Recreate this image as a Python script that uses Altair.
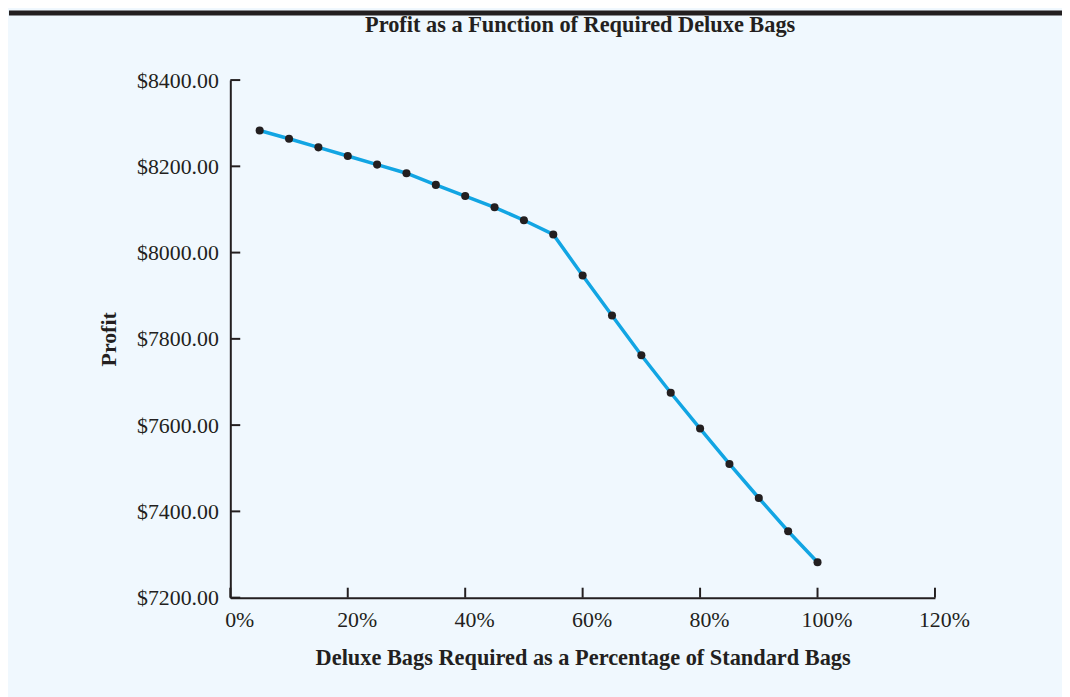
import altair as alt
import pandas as pd

# ---- data ----
pct = [5, 10, 15, 20, 25, 30, 35, 40, 45, 50,
       55, 60, 65, 70, 75, 80, 85, 90, 95, 100]
profit = [8283, 8264, 8244, 8224, 8204, 8184, 8157, 8131, 8105, 8075,
          8042, 7947, 7854, 7762, 7675, 7592, 7510, 7431, 7354, 7282]
x_ticks = [0, 20, 40, 60, 80, 100, 120]
y_ticks = [7200, 7400, 7600, 7800, 8000, 8200, 8400]

title_text = "Profit as a Function of Required Deluxe Bags"
x_title = "Deluxe Bags Required as a Percentage of Standard Bags"
y_title = "Profit"

df = pd.DataFrame({"pct": pct, "profit": profit})
xt = pd.DataFrame({"pct": x_ticks})
yt = pd.DataFrame({"profit": y_ticks})

# ---- style ----
INK = "#231f20"
LINE = "#12a5e3"
BG = "#f0f8fe"
FONT = "Liberation Serif"
W, H = 710, 521.5

xscale = alt.Scale(domain=[0, 120], nice=False, zero=False)
yscale = alt.Scale(domain=[7200, 8400], nice=False, zero=False)

xaxis = alt.Axis(
    values=x_ticks, labelExpr="datum.value + '%'", title=x_title,
    grid=False, ticks=False, tickSize=0,
    domainColor=INK, domainWidth=2,
    labelFont=FONT, labelFontSize=22, labelColor=INK,
    labelBaseline="alphabetic", labelPadding=29.5, labelOffset=9,
    labelFlush=False, labelOverlap=False,
    titleFont=FONT, titleFontSize=22.5, titleFontWeight="bold", titleColor=INK,
    titleBaseline="alphabetic", titleY=67,
)
yaxis = alt.Axis(
    values=y_ticks, format="$.2f", title=y_title,
    grid=False, ticks=False, tickSize=0,
    domainColor=INK, domainWidth=2,
    labelFont=FONT, labelFontSize=22, labelColor=INK,
    labelPadding=12, labelFlush=False, labelOverlap=False,
    titleFont=FONT, titleFontSize=22, titleFontWeight="bold", titleColor=INK,
    titleBaseline="alphabetic", titleX=-115.6,
)

bar = alt.Chart(pd.DataFrame({"k": [0]})).mark_rect(color=INK).encode(
    x=alt.value(-223), x2=alt.value(838), y=alt.value(-70), y2=alt.value(-65)
)

xtick_rules = alt.Chart(xt).mark_rule(color=INK, strokeWidth=2).encode(
    x=alt.X("pct:Q", scale=xscale, axis=xaxis),
    y=alt.value(H), y2=alt.value(H - 10),
)
ytick_rules = alt.Chart(yt).mark_rule(color=INK, strokeWidth=2).encode(
    y=alt.Y("profit:Q", scale=yscale, axis=yaxis),
    x=alt.value(0), x2=alt.value(10),
)

base = alt.Chart(df).encode(
    x=alt.X("pct:Q", scale=xscale, axis=xaxis),
    y=alt.Y("profit:Q", scale=yscale, axis=yaxis),
)
line = base.mark_line(color=LINE, strokeWidth=3.5)
pts = base.mark_circle(color=INK, size=66, opacity=1)

chart = alt.layer(bar, line, xtick_rules, ytick_rules, pts).properties(
    width=W, height=H,
    title=alt.TitleParams(
        title_text, font=FONT, fontSize=22.5, fontWeight="bold", color=INK,
        anchor="middle", frame="group", baseline="alphabetic", offset=15,
        dx=-2.5, dy=59.3,
    ),
    padding={"left": 224, "top": 70, "right": 128, "bottom": 97.5},
    autosize=alt.AutoSizeParams(type="none"),
).configure(background=BG).configure_view(stroke=None)

chart.save("out.html", embed_options={"renderer": "svg", "actions": False})
